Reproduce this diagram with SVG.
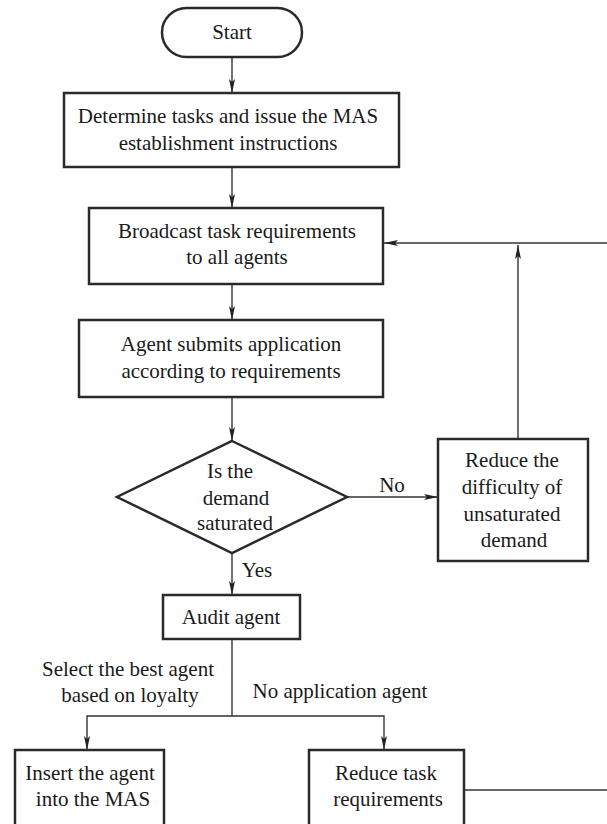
<svg xmlns="http://www.w3.org/2000/svg" width="607" height="824" viewBox="0 0 607 824">
<style>
.box{fill:#fff;stroke:#2a2a2a;stroke-width:2.5}
.ln{fill:none;stroke:#333;stroke-width:1.4}
text{font-family:"Liberation Serif","Times New Roman",serif;font-size:21px;fill:#1a1a1a;text-anchor:middle}
</style>
<defs>
<marker id="ah" viewBox="0 0 14 6" refX="14" refY="3" markerWidth="14" markerHeight="6" markerUnits="userSpaceOnUse" orient="auto">
<path d="M0,0 L14,3 L0,6 L3,3 Z" fill="#222"/>
</marker>
</defs>
<rect width="607" height="824" fill="#fff"/>
<g id="connectors">
<line class="ln" x1="232" y1="57" x2="232" y2="93" marker-end="url(#ah)"/>
<line class="ln" x1="232" y1="167" x2="232" y2="208" marker-end="url(#ah)"/>
<line class="ln" x1="232" y1="284" x2="232" y2="320" marker-end="url(#ah)"/>
<line class="ln" x1="232" y1="397" x2="232" y2="441" marker-end="url(#ah)"/>
<line class="ln" x1="232" y1="553" x2="232" y2="595" marker-end="url(#ah)"/>
<line class="ln" x1="347" y1="497" x2="438" y2="497" marker-end="url(#ah)"/>
<line class="ln" x1="518" y1="439" x2="518" y2="245" marker-end="url(#ah)"/>
<line class="ln" x1="607" y1="243" x2="384" y2="243" marker-end="url(#ah)"/>
<polyline class="ln" points="232,639 232,716"/>
<polyline class="ln" points="232,716 87,716 87,750" marker-end="url(#ah)"/>
<polyline class="ln" points="232,716 384,716 384,750" marker-end="url(#ah)"/>
<line class="ln" x1="464" y1="790" x2="607" y2="790"/>
<text x="392" y="492">No</text>
<text x="257" y="577">Yes</text>
<text x="128" y="676">Select the best agent</text>
<text x="130" y="702">based on loyalty</text>
<text x="340" y="698">No application agent</text>
</g>
<g id="start">
<rect class="box" x="162" y="8" width="140" height="49" rx="24.5"/>
<text x="232" y="39">Start</text>
</g>
<g id="determine">
<rect class="box" x="64" y="93" width="335" height="74"/>
<text x="228" y="123">Determine tasks and issue the MAS</text>
<text x="228" y="150">establishment instructions</text>
</g>
<g id="broadcast">
<rect class="box" x="89" y="208" width="294" height="76"/>
<text x="237" y="238">Broadcast task requirements</text>
<text x="237" y="264">to all agents</text>
</g>
<g id="submit">
<rect class="box" x="79" y="320" width="304" height="77"/>
<text x="231" y="351">Agent submits application</text>
<text x="231" y="378">according to requirements</text>
</g>
<g id="decision">
<polygon class="box" points="232,441 347,497 232,553 117,497"/>
<text x="230" y="478">Is the</text>
<text x="236" y="505">demand</text>
<text x="235" y="530">saturated</text>
</g>
<g id="reduce-difficulty">
<rect class="box" x="438" y="439" width="150" height="122"/>
<text x="512" y="467">Reduce the</text>
<text x="512" y="494">difficulty of</text>
<text x="512" y="521">unsaturated</text>
<text x="514" y="547">demand</text>
</g>
<g id="audit">
<rect class="box" x="163" y="595" width="137" height="44"/>
<text x="231" y="624">Audit agent</text>
</g>
<g id="insert">
<rect class="box" x="15" y="750" width="149" height="90"/>
<text x="90" y="780">Insert the agent</text>
<text x="93" y="806">into the MAS</text>
</g>
<g id="reduce-task">
<rect class="box" x="309" y="750" width="155" height="90"/>
<text x="386" y="780">Reduce task</text>
<text x="388" y="806">requirements</text>
</g>
</svg>
